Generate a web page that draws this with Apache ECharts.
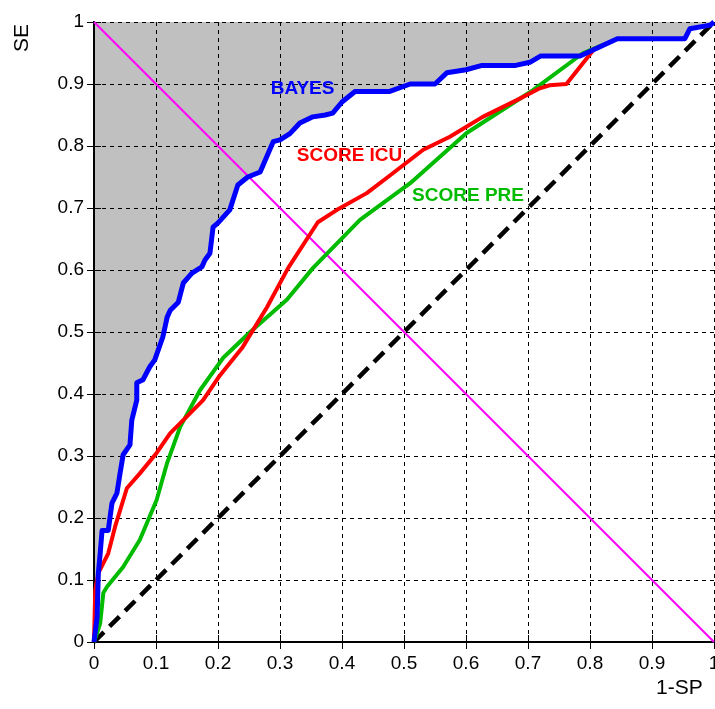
<!DOCTYPE html>
<html>
<head>
<meta charset="utf-8">
<title>ROC</title>
<script src="https://cdn.jsdelivr.net/npm/echarts@6/dist/echarts.min.js"></script>
<style>
  html, body { margin: 0; padding: 0; background: #fff; }
  #chart { width: 715px; height: 709px; }
</style>
</head>
<body>
<div id="chart"></div>
<script>
// ROC curves, [1-SP, SE]
const bayes = [
  [0, 0], [0.005, 0.04], [0.007, 0.111], [0.01, 0.143], [0.013, 0.18], [0.023, 0.18],
  [0.029, 0.224], [0.037, 0.24], [0.042, 0.272], [0.047, 0.302], [0.058, 0.318],
  [0.061, 0.358], [0.069, 0.39], [0.069, 0.418], [0.079, 0.423], [0.09, 0.444],
  [0.098, 0.455], [0.111, 0.492], [0.115, 0.51], [0.118, 0.524], [0.123, 0.535],
  [0.136, 0.548], [0.144, 0.579], [0.158, 0.595], [0.174, 0.605], [0.179, 0.616],
  [0.187, 0.627], [0.192, 0.669], [0.2, 0.676], [0.219, 0.697], [0.232, 0.737],
  [0.248, 0.75], [0.268, 0.758], [0.289, 0.807], [0.3, 0.81], [0.316, 0.82],
  [0.332, 0.837], [0.353, 0.847], [0.373, 0.85], [0.385, 0.853], [0.4, 0.871],
  [0.421, 0.888], [0.477, 0.888], [0.51, 0.9], [0.55, 0.9], [0.569, 0.918],
  [0.6, 0.923], [0.626, 0.93], [0.68, 0.93], [0.703, 0.935], [0.72, 0.945],
  [0.784, 0.945], [0.844, 0.973], [0.953, 0.973], [0.961, 0.989], [0.994, 0.995], [1, 1]
]
const scoreIcu = [
  [0, 0], [0.002, 0.084], [0.007, 0.111], [0.023, 0.143], [0.034, 0.186], [0.053, 0.248],
  [0.074, 0.272], [0.101, 0.305], [0.123, 0.337], [0.144, 0.358], [0.176, 0.39],
  [0.203, 0.43], [0.24, 0.476], [0.279, 0.54], [0.313, 0.603], [0.361, 0.677],
  [0.392, 0.697], [0.44, 0.724], [0.482, 0.756], [0.531, 0.794], [0.574, 0.815],
  [0.627, 0.847], [0.682, 0.874], [0.719, 0.893], [0.735, 0.898], [0.762, 0.9], [0.808, 0.958]
]
const scorePre = [
  [0, 0], [0.01, 0.03], [0.015, 0.079], [0.021, 0.089], [0.047, 0.121], [0.074, 0.165],
  [0.101, 0.229], [0.118, 0.289], [0.139, 0.347], [0.171, 0.406], [0.208, 0.458],
  [0.252, 0.5], [0.311, 0.552], [0.353, 0.603], [0.429, 0.681], [0.51, 0.74],
  [0.601, 0.821], [0.708, 0.89], [0.789, 0.95], [0.821, 0.963]
]
const chance = [[0, 0], [1, 1]]
const cross = [[0, 1], [1, 0]]
// where the curve names sit
const curveLabels = [
  { name: 'BAYES', coord: [0.285, 0.893], color: '#0000ff' },
  { name: 'SCORE ICU', coord: [0.327, 0.785], color: '#ff0000' },
  { name: 'SCORE PRE', coord: [0.513, 0.719], color: '#00bb00' }
]

const font = 'Liberation Sans, Arial, sans-serif'
const chart = echarts.init(document.getElementById('chart'))

const gridLine = { show: true, lineStyle: { color: '#000', width: 1, type: [4, 4] } }
const frame = { show: true, lineStyle: { color: '#000', width: 2 } }
const ticks = { show: true, inside: false, length: 7, lineStyle: { color: '#000', width: 1 } }
const tickLabel = {
  color: '#000', fontSize: 19, fontFamily: font,
  formatter: v => (v === 0 || v === 1) ? String(v) : v.toFixed(1)
}

function curve(data, color, width, z, label) {
  return {
    type: 'line',
    data: data,
    z: z,
    symbol: 'none',
    silent: true,
    lineStyle: { color: color, width: width, join: 'round' },
    markPoint: label ? {
      symbol: 'circle',
      symbolSize: 0,
      silent: true,
      data: [{ coord: label.coord }],
      label: {
        show: true, position: 'right', distance: 0,
        formatter: label.name, color: label.color,
        fontSize: 19, fontWeight: 'bold', fontFamily: font
      }
    } : undefined
  }
}

chart.setOption({
  animation: false,
  grid: { left: 94, top: 22, right: 1, bottom: 67, containLabel: false, outerBoundsMode: 'none' },
  xAxis: [
    {
      type: 'value', min: 0, max: 1, interval: 0.1, z: 1,
      axisLine: frame, axisTick: ticks, splitLine: gridLine,
      axisLabel: Object.assign({ margin: 12 }, tickLabel)
    },
    {
      type: 'value', position: 'top', min: 0, max: 1, interval: 0.1, z: 1,
      axisLine: frame, axisTick: ticks, splitLine: { show: false }, axisLabel: { show: false }
    }
  ],
  yAxis: [
    {
      type: 'value', min: 0, max: 1, interval: 0.1, z: 1,
      axisLine: frame, axisTick: ticks, splitLine: gridLine,
      axisLabel: Object.assign({ margin: 10 }, tickLabel)
    },
    {
      type: 'value', position: 'right', min: 0, max: 1, interval: 0.1, z: 1,
      axisLine: frame, axisTick: ticks, splitLine: { show: false }, axisLabel: { show: false }
    }
  ],
  graphic: [
    { type: 'text', left: 656, top: 678, style: { text: '1-SP', font: '21px ' + font, fill: '#000' } },
    { type: 'text', left: 12, top: 24, rotation: Math.PI / 2, style: { text: 'SE', font: '21px ' + font, fill: '#000' } }
  ],
  series: [
    // grey region above the BAYES curve
    {
      type: 'line', data: bayes, z: 0, symbol: 'none', silent: true,
      lineStyle: { width: 0 },
      areaStyle: { origin: 'end', color: '#c0c0c0', opacity: 1 }
    },
    curve(cross, '#ff00ff', 2, 2),
    Object.assign(curve(chance, '#000', 4.5, 3), { lineStyle: { color: '#000', width: 4.5, type: [14, 8] } }),
    curve(scorePre, '#00bb00', 4, 4, curveLabels[2]),
    curve(scoreIcu, '#ff0000', 4, 5, curveLabels[1]),
    curve(bayes, '#0000ff', 5, 6, curveLabels[0])
  ]
})
</script>
</body>
</html>
